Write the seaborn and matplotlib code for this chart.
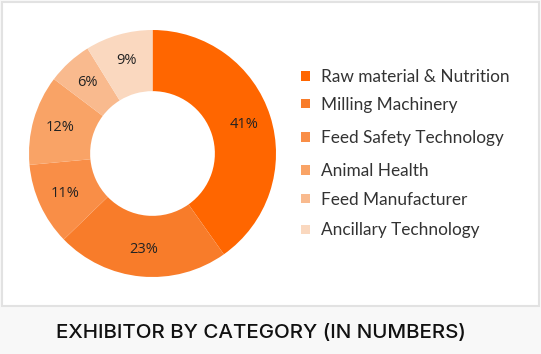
import matplotlib
matplotlib.use("Agg")
import matplotlib.pyplot as plt
import matplotlib.patches as mpatches
import seaborn as sns

categories = ["Raw material & Nutrition", "Milling Machinery", "Feed Safety Technology",
              "Animal Health", "Feed Manufacturer", "Ancillary Technology"]
shares = [41, 23, 11, 12, 6, 9]
legend_order = [0, 1, 2, 3, 4, 5]
title = "EXHIBITOR BY CATEGORY (IN NUMBERS)"

colors = sns.color_palette(["#FF6600", "#F87C2A", "#F98E47", "#F9A366", "#F9BA8E", "#FAD8BF"])

sns.set_theme(style="white")
plt.rcParams['font.family'] = ['Lato', 'DejaVu Sans']

W, H = 541, 354
fig = plt.figure(figsize=(W / 100, H / 100), dpi=100)
fig.patch.set_facecolor("#F8F8F8")

# white panel with light border
panel = mpatches.Rectangle((2 / W, 1 - 306 / H), 537 / W, 304 / H, transform=fig.transFigure,
                           facecolor="white", edgecolor="#E2E2E2", linewidth=1.5, zorder=-5)
fig.patches.append(panel)

total = sum(shares)
cx, cy, r = 152.5, 153.5, 123.5
ax = fig.add_axes([(cx - r) / W, 1 - (cy + r) / H, 2 * r / W, 2 * r / H])
ax.set_zorder(2)
ax.set_facecolor("none")
wedges, texts, autotexts = ax.pie(
    shares, colors=colors, startangle=90, counterclock=False,
    autopct=lambda p: f"{round(p * total / 100)}%", pctdistance=0.78,
    wedgeprops=dict(width=0.495, edgecolor="none"),
    textprops=dict(fontsize=10.5, color="#222222", family=["Open Sans", "DejaVu Sans"]))
ax.set_aspect("equal")
ax.set_xlim(-1, 1)
ax.set_ylim(-1, 1)
ax.axis("off")

# legend entries
rows_y = [76, 104, 137, 170, 199, 229]
for i, yy in zip(legend_order, rows_y):
    sq = mpatches.Rectangle((301 / W, 1 - (yy + 4.5) / H), 9 / W, 9 / H, transform=fig.transFigure,
                            facecolor=colors[i], edgecolor="none", zorder=3)
    fig.patches.append(sq)
    fig.text(321 / W, 1 - (yy + 1) / H, categories[i], fontsize=12.4, color="#333333",
             va="center", ha="left", family=["Lato", "DejaVu Sans"])

fig.text(261 / W, 1 - 333 / H, title, fontsize=14.8, color="#111111", ha="center", va="center",
         family=["Inter", "DejaVu Sans"], fontweight="medium")

fig.savefig("out.png", dpi=100, facecolor=fig.get_facecolor())
